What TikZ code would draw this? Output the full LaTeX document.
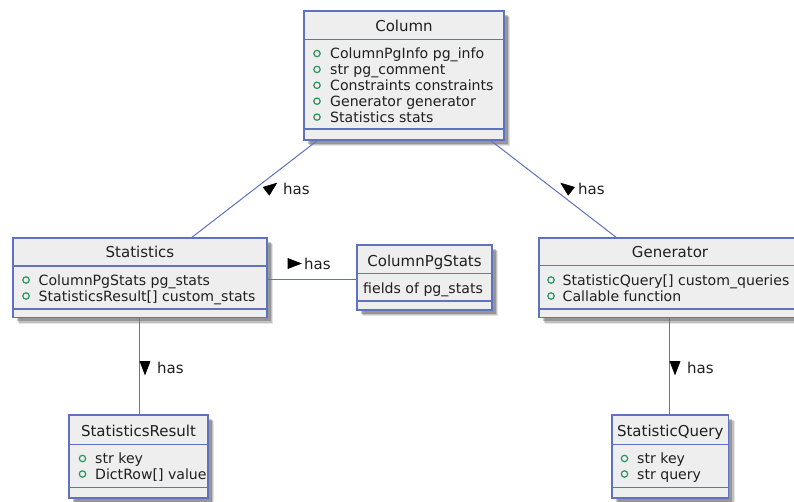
\documentclass[tikz,border=0pt]{standalone}
\usepackage{fontspec}
\setmainfont{DejaVu Sans}
\usetikzlibrary{calc}

\definecolor{umlblue}{RGB}{94,114,192}
\definecolor{umlfill}{RGB}{238,238,238}
\definecolor{visgreen}{RGB}{40,150,95}

\tikzset{
  umlbox/.style={draw=umlblue, line width=1.4pt, fill=umlfill, inner sep=0pt, outer sep=0pt,
    anchor=north west,
    preaction={fill=black, opacity=0.10, transform canvas={shift={(6pt,-6pt)}}},
    preaction={fill=black, opacity=0.16, transform canvas={shift={(5pt,-5pt)}}},
    preaction={fill=black, opacity=0.22, transform canvas={shift={(3.5pt,-3.5pt)}}}},
  sepline/.style={draw=umlblue, line width=1.4pt},
  boxtitle/.style={font=\fontsize{15}{18}\selectfont, inner sep=0pt, anchor=base, text=black!88},
  boxattr/.style={font=\fontsize{14.1}{16}\selectfont, inner sep=0pt, anchor=base west, text=black!88},
  visdot/.style={draw=visgreen, line width=1.2pt},
  conn/.style={draw=umlblue, line width=1pt},
  haslbl/.style={font=\fontsize{15}{18}\selectfont, inner sep=0pt, anchor=base west, text=black!88},
  tipfill/.style={fill=black, draw=black, line width=0.6pt, line join=miter},
}

% filled direction triangle of an association label: centre x, centre y, direction
\newcommand{\hastip}[3]{%
  \path[tipfill] ($(#1,#2)+(#3:7pt)$)
    -- ($(#1,#2)+(#3+180:6pt)+(#3+90:5pt)$)
    -- ($(#1,#2)+(#3+180:6pt)+(#3-90:5pt)$) -- cycle;}
% public attribute marker
\newcommand{\pubdot}[2]{\draw[visdot] (#1,#2) circle (3.2pt);}

\begin{document}
\begin{tikzpicture}[x=1pt, y=-1pt]
\useasboundingbox (0,0) rectangle (794,501);
\clip (0,0) rectangle (794,501);

% ---------------- Column ----------------
\node[umlbox, minimum width=200pt, minimum height=129pt] (col) at (304,11) {};
\draw[sepline] ($(col.north west)+(0,28.3)$) -- ($(col.north east)+(0,28.3)$);
\draw[sepline] ($(col.north west)+(0,118)$) -- ($(col.north east)+(0,118)$);
\node[boxtitle] (colT) at (404,31.7) {Column};
\pubdot{317}{53.5}   \node[boxattr] (colA) at (330,58.5)  {ColumnPgInfo pg\_info};
\pubdot{317}{69.4}   \node[boxattr] (colB) at (330,74.4)  {str pg\_comment};
\pubdot{317}{85.3}   \node[boxattr] (colC) at (330,90.3)  {Constraints constraints};
\pubdot{317}{101.2}  \node[boxattr] (colD) at (330,106.2) {Generator generator};
\pubdot{317}{117.1}  \node[boxattr] (colE) at (330,122.1) {Statistics stats};

% ---------------- Statistics ----------------
\node[umlbox, minimum width=254pt, minimum height=79.5pt] (stat) at (13,238) {};
\draw[sepline] ($(stat.north west)+(0,28)$) -- ($(stat.north east)+(0,28)$);
\draw[sepline] ($(stat.north west)+(0,71)$) -- ($(stat.north east)+(0,71)$);
\node[boxtitle] (statT) at (140,257.3) {Statistics};
\pubdot{26}{280}  \node[boxattr] (statA) at (38.5,285) {ColumnPgStats pg\_stats};
\pubdot{26}{296}  \node[boxattr] (statB) at (38.5,301) {StatisticsResult[] custom\_stats};

% ---------------- ColumnPgStats ----------------
\node[umlbox, minimum width=135pt, minimum height=65pt] (cpgs) at (357,245) {};
\draw[sepline] ($(cpgs.north west)+(0,28.3)$) -- ($(cpgs.north east)+(0,28.3)$);
\draw[sepline] ($(cpgs.north west)+(0,56)$) -- ($(cpgs.north east)+(0,56)$);
\node[boxtitle] (cpgsT) at (424.5,266) {ColumnPgStats};
\node[boxattr] (cpgsA) at (363,293) {fields of pg\_stats};

% ---------------- Generator ----------------
\node[umlbox, minimum width=262pt, minimum height=79.5pt] (gen) at (539,238) {};
\draw[sepline] ($(gen.north west)+(0,27.5)$) -- ($(gen.north east)+(0,27.5)$);
\draw[sepline] ($(gen.north west)+(0,71)$) -- ($(gen.north east)+(0,71)$);
\node[boxtitle] (genT) at (670,257.3) {Generator};
\pubdot{551}{280}  \node[boxattr] (genA) at (562.5,285) {StatisticQuery[] custom\_queries};
\pubdot{551}{296}  \node[boxattr] (genB) at (562.5,301) {Callable function};

% ---------------- StatisticsResult ----------------
\node[umlbox, minimum width=139pt, minimum height=83pt] (sres) at (69,415) {};
\draw[sepline] ($(sres.north west)+(0,29.3)$) -- ($(sres.north east)+(0,29.3)$);
\draw[sepline] ($(sres.north west)+(0,72.3)$) -- ($(sres.north east)+(0,72.3)$);
\node[boxtitle] (sresT) at (138.5,436) {StatisticsResult};
\pubdot{82.5}{458.5}  \node[boxattr] (sresA) at (95,463.5) {str key};
\pubdot{82.5}{474}    \node[boxattr] (sresB) at (95,479) {DictRow[] value};

% ---------------- StatisticQuery ----------------
\node[umlbox, minimum width=116.5pt, minimum height=83pt] (squery) at (612,415) {};
\draw[sepline] ($(squery.north west)+(0,29.3)$) -- ($(squery.north east)+(0,29.3)$);
\draw[sepline] ($(squery.north west)+(0,72.3)$) -- ($(squery.north east)+(0,72.3)$);
\node[boxtitle] (squeryT) at (670.25,436) {StatisticQuery};
\pubdot{624.5}{458.5}  \node[boxattr] (squeryA) at (637,463.5) {str key};
\pubdot{624.5}{474}    \node[boxattr] (squeryB) at (637,479) {str query};

% ---------------- associations ----------------
\draw[conn] ($(col.south west)+(14,0)$) -- ($(stat.north west)+(178,0)$);
\hastip{271}{187.5}{37.7}
\node[haslbl] (lblA) at (283,194.5) {has};

\draw[conn] ($(col.south west)+(186,0)$) -- ($(gen.north west)+(78,0)$);
\hastip{566.5}{187.5}{142.3}
\node[haslbl] (lblB) at (578,194.5) {has};

\draw[conn] ($(stat.north east)+(0,41)$) -- ($(cpgs.north west)+(0,34)$);
\hastip{294}{263.5}{0}
\node[haslbl] (lblC) at (304,269) {has};

\draw[conn] ($(stat.south west)+(126,0)$) -- ($(sres.north west)+(70,0)$);
\hastip{145}{367.5}{-90}
\node[haslbl] (lblD) at (157,373) {has};

\draw[conn] ($(gen.south west)+(130,0)$) -- ($(squery.north west)+(57,0)$);
\hastip{675}{367.5}{-90}
\node[haslbl] (lblE) at (687,373) {has};
\end{tikzpicture}
\end{document}
